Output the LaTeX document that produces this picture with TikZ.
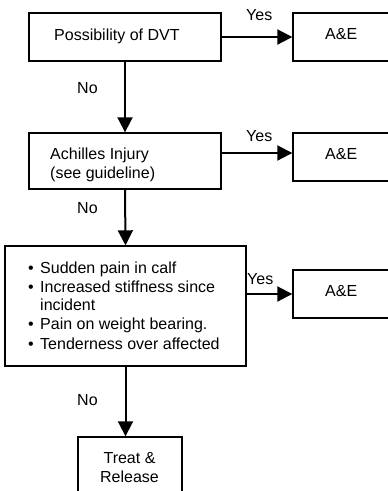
\documentclass[tikz,border=0pt]{standalone}
\usepackage{fontspec}
\setmainfont{Liberation Sans}
\usetikzlibrary{arrows.meta}
\begin{document}
\begin{tikzpicture}[x=1pt,y=-1pt,
  txt/.style={inner sep=0pt,font=\fontsize{16}{17.5}\selectfont},
  box/.style={draw,line width=1.4pt,inner sep=0pt},
  arr/.style={line width=2pt,-{Triangle[length=15pt,width=15pt]}}]
\useasboundingbox (0,0) rectangle (388,491);
\clip (0,0) rectangle (388,491);
% question boxes
\node[box,minimum width=192pt,minimum height=48pt] (b1) at (125,37) {};
\node[box,minimum width=192pt,minimum height=56pt] (b2) at (125,161) {};
\node[box,minimum width=241pt,minimum height=120pt] (b3) at (125.5,306) {};
\node[box,minimum width=104pt,minimum height=70pt] (b4) at (130,472) {};
% A&E boxes (run past the right edge)
\node[box,minimum width=96pt,minimum height=48pt] (ae1) at (341,37) {};
\node[box,minimum width=96pt,minimum height=48pt] (ae2) at (341,157) {};
\node[box,minimum width=96pt,minimum height=48pt] (ae3) at (341,294) {};
% box texts
\node[txt,anchor=base west] (t1) at (54,40) {Possibility of DVT};
\node[txt,anchor=base west] (t2) at (50,159.5)
  {\begin{tabular}[t]{@{}l@{}}Achilles Injury\\[1pt](see guideline)\end{tabular}};
\node[txt,anchor=base west] (t3) at (28,273)
  {\begin{tabular}[t]{@{}p{12pt}@{}l@{}}
  •&Sudden pain in calf\\[2pt]
  •&Increased stiffness since\\
   &incident\\[2pt]
  •&Pain on weight bearing.\\[2pt]
  •&Tenderness over affected
  \end{tabular}};
\node[txt,anchor=base] (t4) at (129.5,463.3)
  {\begin{tabular}[t]{@{}c@{}}Treat \&\\[1.5pt]Release\end{tabular}};
\node[txt,anchor=base west] (a1) at (325,39.5) {A\&E};
\node[txt,anchor=base west] (a2) at (325,159.5) {A\&E};
\node[txt,anchor=base west] (a3) at (325,296.7) {A\&E};
% connectors
\coordinate (s2) at ([yshift=8pt]b2.east);
\draw[arr] (b1.east) -- (ae1.west);
\draw[arr] (s2) -- (s2 -| ae2.west);
\draw[arr] (b3.east |- ae3.west) -- (ae3.west);
\draw[arr] (b1.south) -- (b2.north);
\draw[arr] (b2.south) -- (b3.north);
\draw[arr] (b3.south) -- (b3.south |- b4.north);
% branch labels
\node[txt,anchor=base west] (y1) at (246,20.5) {Yes};
\node[txt,anchor=base west] (y2) at (246,141.7) {Yes};
\node[txt,anchor=base west] (y3) at (247,284.3) {Yes};
\node[txt,anchor=base west] (n1) at (77,93.3) {No};
\node[txt,anchor=base west] (n2) at (77,213.3) {No};
\node[txt,anchor=base west] (n3) at (77,405.7) {No};
\end{tikzpicture}
\end{document}
